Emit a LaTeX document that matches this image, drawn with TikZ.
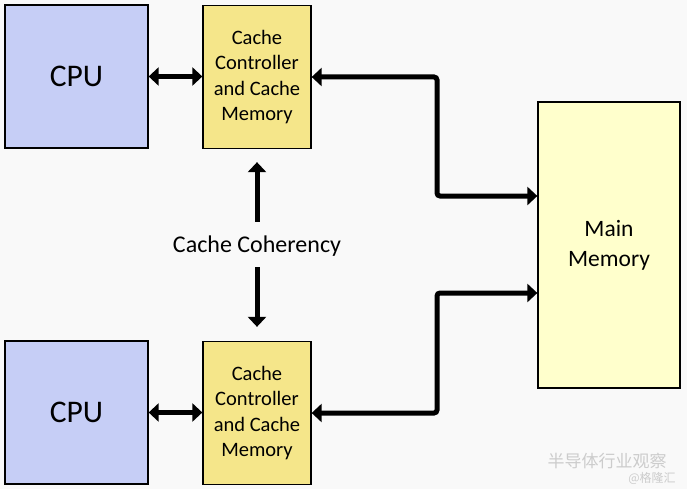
\documentclass[tikz,border=0pt]{standalone}
\usepackage{fontspec}
\setmainfont{Carlito}
\newfontfamily\cjk{Noto Sans CJK SC}
\usetikzlibrary{arrows.meta}
\definecolor{cpublue}{HTML}{C6CEF6}
\definecolor{cacheyel}{HTML}{F5E68A}
\definecolor{memyel}{HTML}{FFFFCC}
\definecolor{bgcol}{HTML}{F9F9F9}
\begin{document}
\begin{tikzpicture}[x=1pt,y=-1pt,
 box/.style={draw=black, line width=1.3pt, inner sep=0pt, align=center},
 cpubox/.style={box, fill=cpublue, minimum width=143pt, minimum height=143pt, font=\fontsize{31.5}{36}\selectfont},
 cachebox/.style={box, fill=cacheyel, minimum width=108pt, minimum height=143pt, font=\fontsize{20.5}{25.5}\selectfont},
 membox/.style={box, fill=memyel, minimum width=142pt, minimum height=286pt, font=\fontsize{23.5}{30}\selectfont},
 arr/.style={line width=5pt, -{Triangle[width=18pt,length=10pt]}},
 darr/.style={line width=5pt, {Triangle[width=18pt,length=10pt]}-{Triangle[width=18pt,length=10pt]}, rounded corners=3pt},
 wmark/.style={inner sep=0pt, text=gray!40},
]
\fill[bgcol] (0,0) rectangle (687,489);
\useasboundingbox (0,0) rectangle (687,489);

\node[cpubox] (cpu1) at (76.5,76.5) {CPU};
\node[cachebox] (cache1) at (257,77) {Cache\\Controller\\and Cache\\Memory};
\node[membox] (mem) at (609,245) {Main\\Memory};
\node[cpubox] (cpu2) at (76.5,412.5) {CPU};
\node[cachebox] (cache2) at (257,413) {Cache\\Controller\\and Cache\\Memory};
\node[inner sep=0pt, font=\fontsize{24}{28}\selectfont] (coh) at (257,246) {Cache Coherency};

\coordinate (bend) at (437,0);

\draw[darr] (cpu1) -- (cache1.west |- cpu1);
\draw[darr] (cpu2) -- (cache2.west |- cpu2);
\draw[darr] (cache1.east) -- (cache1.east -| bend) |- ([yshift=49pt]mem.west);
\draw[darr] (cache2.east) -- (cache2.east -| bend) |- ([yshift=-48pt]mem.west);

\draw[arr, shorten <=14pt, shorten >=13pt] (coh.north) -- (cache1.south);
\draw[arr, shorten <=11pt, shorten >=14pt] (coh.south) -- (cache2.north);

\node[wmark, font=\cjk\fontsize{17}{17}\selectfont] (wm1) at (607,461) {半导体行业观察};
\node[wmark, font=\cjk\fontsize{12}{12}\selectfont] (wm2) at (652,478) {@格隆汇};
\end{tikzpicture}
\end{document}
